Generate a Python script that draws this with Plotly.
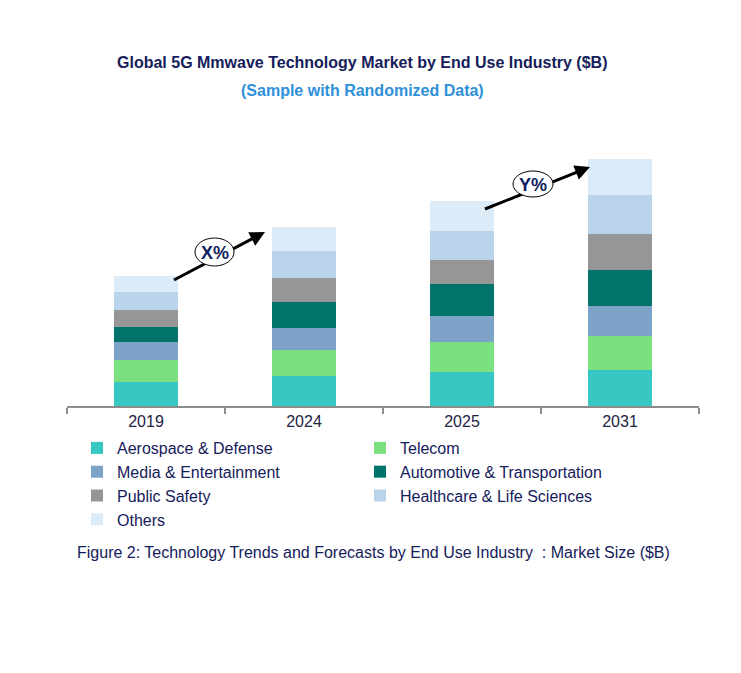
import plotly.graph_objects as go
import math

years = ["2019", "2024", "2025", "2031"]
segments = ["Aerospace & Defense", "Telecom", "Media & Entertainment",
            "Automotive & Transportation", "Public Safety",
            "Healthcare & Life Sciences", "Others"]
aerospace = [2.4, 3.0, 3.4, 3.6]
telecom = [2.2, 2.6, 3.0, 3.4]
media = [1.8, 2.2, 2.6, 3.0]
automotive = [1.5, 2.6, 3.2, 3.6]
public_safety = [1.7, 2.4, 2.4, 3.6]
healthcare = [1.8, 2.7, 2.9, 3.9]
others = [1.6, 2.4, 3.0, 3.6]
series = [aerospace, telecom, media, automotive, public_safety, healthcare, others]
colors = ["#38C8C4", "#7BE07F", "#7DA3C8", "#00736B", "#969696", "#B9D3EB", "#DCEBF8"]

W, H = 741, 673
L, R, T, B = 67, 699, 150, 406
NAVY = "#15205A"
FONT = "Liberation Sans, Arial, sans-serif"

def px(x):
    return (x - L) / (R - L)

def py(y):
    return (B - y) / (B - T)

fig = go.Figure()
for name, vals, c in zip(segments, series, colors):
    fig.add_trace(go.Bar(x=years, y=vals, name=name, marker=dict(color=c, line=dict(width=0))))

fig.update_layout(
    barmode="stack", bargap=0.6,
    width=W, height=H, autosize=False,
    margin=dict(l=L, r=W - R, t=T, b=H - B),
    plot_bgcolor="white", paper_bgcolor="white",
    font=dict(family=FONT, color=NAVY, size=16),
    xaxis=dict(type="category", showline=True, linecolor="#8c8c8c", linewidth=1.5,
               ticks="outside", tickson="boundaries", ticklen=6, tickcolor="#8c8c8c",
               tickwidth=1.5, showgrid=False, tickfont=dict(size=16, color="#222244"),
               range=[-0.5, 3.5]),
    yaxis=dict(visible=False, range=[0, 25.6]),
    legend=dict(orientation="h", x=px(77), y=py(431), xanchor="left", yanchor="top",
                entrywidth=238, entrywidthmode="pixels", traceorder="normal",
                font=dict(size=16, color=NAVY), itemclick=False, tracegroupgap=0),
    showlegend=True,
)

# titles
fig.add_annotation(text="<b>Global 5G Mmwave Technology Market by End Use Industry ($B)</b>",
                   xref="paper", yref="paper", x=px(362), y=py(62), showarrow=False,
                   font=dict(size=16, color=NAVY), xanchor="center", yanchor="middle")
fig.add_annotation(text="<b>(Sample with Randomized Data)</b>",
                   xref="paper", yref="paper", x=px(362), y=py(90), showarrow=False,
                   font=dict(size=16, color="#2E90D8"), xanchor="center", yanchor="middle")
fig.add_annotation(text="Figure 2: Technology Trends and Forecasts by End Use Industry  : Market Size ($B)",
                   xref="paper", yref="paper", x=px(373), y=py(552), showarrow=False,
                   font=dict(size=16, color=NAVY), xanchor="center", yanchor="middle")

# growth arrows
arrows = [
    ((174, 280), (265, 232), (195, 238, 234, 266), "X%"),
    ((485, 209), (590, 167), (513, 171, 553, 197), "Y%"),
]
for (sx, sy), (ex, ey), (ex0, ey0, ex1, ey1), label in arrows:
    dx, dy = ex - sx, ey - sy
    ln = math.hypot(dx, dy)
    ux, uy = dx / ln, dy / ln
    fig.add_shape(type="line", xref="paper", yref="paper",
                  x0=px(sx), y0=py(sy), x1=px(ex - ux * 8), y1=py(ey - uy * 8),
                  line=dict(color="black", width=3), layer="above")
    fig.add_shape(type="circle", xref="paper", yref="paper",
                  x0=px(ex0), x1=px(ex1), y0=py(ey1), y1=py(ey0),
                  fillcolor="white", line=dict(color="black", width=1), layer="above")
    fig.add_annotation(xref="paper", yref="paper", x=px(ex), y=py(ey), text="",
                       showarrow=True, ax=-ux * 14, ay=-uy * 14, arrowhead=2,
                       arrowsize=1, arrowwidth=3, arrowcolor="black", standoff=0)
    fig.add_annotation(text="<b>" + label + "</b>", xref="paper", yref="paper",
                       x=px((ex0 + ex1) / 2), y=py((ey0 + ey1) / 2 + 1), showarrow=False,
                       font=dict(size=18, color="#0F2060"), xanchor="center", yanchor="middle")

fig.write_html("out.html")
